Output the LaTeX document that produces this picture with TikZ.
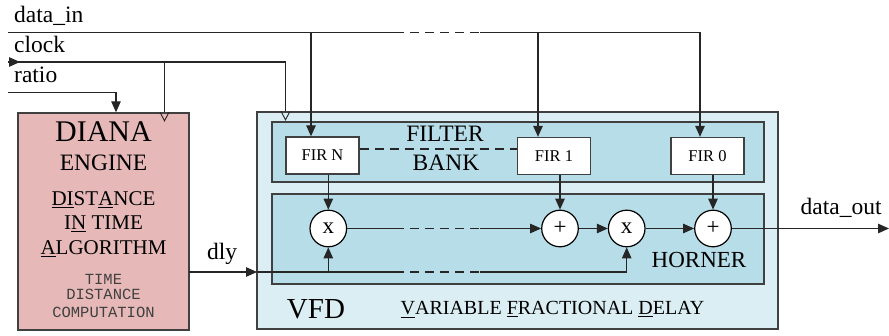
\documentclass[tikz,border=0pt]{standalone}
\usepackage{fontspec}
\setmainfont{Liberation Serif}
\setmonofont{Liberation Mono}
\usetikzlibrary{arrows.meta}
\definecolor{dianafill}{HTML}{E6B9B8}
\definecolor{vfdfill}{HTML}{DAEEF3}
\definecolor{innerfill}{HTML}{B7DEE8}
\definecolor{bordercol}{HTML}{404040}
\begin{document}
\begin{tikzpicture}[x=1pt,y=-1pt,
  box/.style={rectangle, draw=bordercol, line width=1.4pt, inner sep=0pt},
  firbox/.style={rectangle, draw=bordercol, fill=white, line width=1.3pt, inner sep=0pt,
     minimum width=73pt, minimum height=37pt, font=\rmfamily\fontsize{16.5}{16.5}\selectfont},
  op/.style={circle, draw=black, fill=white, line width=1.2pt, minimum size=36.6pt, inner sep=0pt,
     font=\rmfamily\fontsize{23}{23}\selectfont},
  wire/.style={line width=1.2pt, draw=black!85},
  arr/.style={wire, -{Triangle[length=11pt,width=9.5pt]}},
  dsh/.style={wire, dash pattern=on 9pt off 6pt},
  lbl/.style={inner sep=0pt, font=\rmfamily\fontsize{23.5}{23.5}\selectfont},
  dtxt/.style={inner sep=0pt, font=\rmfamily\fontsize{21}{21}\selectfont},
  ttxt/.style={inner sep=0pt, font=\fontsize{15.5}{15.5}\selectfont\ttfamily, text=bordercol},
]
\useasboundingbox (0,0) rectangle (889,336);

% boxes
\node[box, fill=dianafill, minimum width=171pt, minimum height=217pt] (diana) at (103.5,221.5) {};
\node[box, fill=vfdfill, minimum width=521pt, minimum height=217pt] (vfd) at (517.5,220.5) {};
\node[box, fill=innerfill, minimum width=492pt, minimum height=60pt] (fb) at (518,152) {};
\node[box, fill=innerfill, minimum width=492pt, minimum height=90pt] (hb) at (518,239) {};

\node[firbox] (firN) at (322.5,155.5) {FIR N};
\node[firbox] (fir1) at (554,156) {FIR 1};
\node[firbox] (fir0) at (707.5,156) {FIR 0};

\node[op] (x1) at (328.3,228.5) {x};
\node[op] (p1) at (560,228.5) {+};
\node[op] (x2) at (626.7,228.5) {x};
\node[op] (p2) at (713,228.5) {+};

% texts
\node[lbl, anchor=base west] (tdin) at (14,23) {data\_in};
\node[lbl, anchor=base west] (tclk) at (14,53) {clock};
\node[lbl, anchor=base west] (trat) at (14,83) {ratio};
\node[lbl, anchor=base west] (tdly) at (207,259.3) {dly};
\node[lbl, anchor=base west] (tdout) at (800.5,215) {data\_out};

\node[inner sep=0pt, anchor=base, font=\rmfamily\fontsize{30}{30}\selectfont] (tdiana) at (103.5,141.7) {DIANA};
\node[inner sep=0pt, anchor=base, font=\rmfamily\fontsize{23.5}{23.5}\selectfont] (teng) at (103.5,170.7) {ENGINE};
\node[dtxt, anchor=base] (td1) at (103.5,206) {\underline{DI}ST\underline{A}NCE};
\node[dtxt, anchor=base] (td2) at (103.5,230) {I\underline{N} TIME};
\node[dtxt, anchor=base] (td3) at (103.5,255) {\underline{A}LGORITHM};
\node[ttxt, anchor=base] (tt1) at (103.5,284.3) {TIME};
\node[ttxt, anchor=base] (tt2) at (103.5,299.3) {DISTANCE};
\node[ttxt, anchor=base] (tt3) at (103.5,317.3) {COMPUTATION};

\node[lbl, anchor=base] (tfil) at (445,141.7) {FILTER};
\node[lbl, anchor=base] (tbank) at (446,171) {BANK};
\node[inner sep=0pt, anchor=base, font=\rmfamily\fontsize{23}{23}\selectfont] (thor) at (699,267.3) {HORNER};
\node[inner sep=0pt, anchor=base, font=\rmfamily\fontsize{29}{29}\selectfont] (tvfd) at (316,318.3) {VFD};
\node[inner sep=0pt, anchor=base, font=\rmfamily\fontsize{20}{20}\selectfont] (tvar) at (552.5,315)
  {\underline{V}ARIABLE \underline{F}RACTIONAL \underline{D}ELAY};

% data_in bus
\coordinate (din0) at (8,32.5);
\coordinate (dinA) at (395,32.5);
\coordinate (dinB) at (480,32.5);
\coordinate (dN) at (311,32.5);
\coordinate (d1) at (538,32.5);
\coordinate (d0) at (700,32.5);
\draw[wire] (din0) -- (dinA);
\draw[dsh] (dinA) -- (dinB);
\draw[wire] (dinB) -- (d0);
\draw[arr] (d0) -- (d0 |- fir0.north);
\draw[arr] (dN) -- (dN |- firN.north);
\draw[arr] (d1) -- (d1 |- fir1.north);

% clock
\coordinate (clk0) at (8,62);
\coordinate (clkA) at (20,62);
\coordinate (clkD) at (164.5,62);
\coordinate (clkV) at (285.5,62);
\draw[wire] (clk0) -- (clkV) -- (clkV |- vfd.north);
\draw[wire] (clkD) -- (clkD |- diana.north);
\draw[arr] (clk0) -- (clkA);
\draw[wire, line width=0.9pt] ([xshift=-4.5pt]clkD |- diana.north) -- ([yshift=-8.5pt]clkD |- diana.north) -- ([xshift=4.5pt]clkD |- diana.north);
\draw[wire, line width=0.9pt] ([xshift=-4.5pt]clkV |- vfd.north) -- ([yshift=-8.5pt]clkV |- vfd.north) -- ([xshift=4.5pt]clkV |- vfd.north);

% ratio
\coordinate (rat0) at (8,92.5);
\coordinate (rat1) at (116,92.5);
\draw[arr] (rat0) -- (rat1) -- (rat1 |- diana.north);

% dly
\coordinate (dly0) at (189,272);
\coordinate (dlyV) at (257,272);
\coordinate (dlyX) at (328.3,272);
\coordinate (dlyA) at (395,272);
\coordinate (dlyB) at (480,272);
\coordinate (dlyY) at (626.7,272);
\draw[arr] (dly0) -- (dlyV);
\draw[wire] (dlyV) -- (dlyA);
\draw[arr] (dlyX) -- (x1.south);
\draw[dsh] (dlyA) -- (dlyB);
\draw[wire] (dlyB) -- (dlyY);
\draw[arr] (dlyY) -- (x2.south);

% filter bank dashed link
\draw[dsh] (firN.east |- 0,149) -- (fir1.west |- 0,149);

% fir outputs
\draw[arr] (x1 |- firN.south) -- (x1.north);
\draw[arr] (p1 |- fir1.south) -- (p1.north);
\draw[arr] (p2 |- fir0.south) -- (p2.north);

% horner chain
\coordinate (hA) at (395,228.5);
\coordinate (hB) at (480,228.5);
\draw[wire] (x1.east) -- (hA);
\draw[dsh] (hA) -- (hB);
\draw[arr] (hB) -- (p1.west);
\draw[arr] (p1.east) -- (x2.west);
\draw[arr] (x2.east) -- (p2.west);
\coordinate (dout) at (889,228.5);
\draw[arr] (p2.east) -- (dout);
\end{tikzpicture}
\end{document}
